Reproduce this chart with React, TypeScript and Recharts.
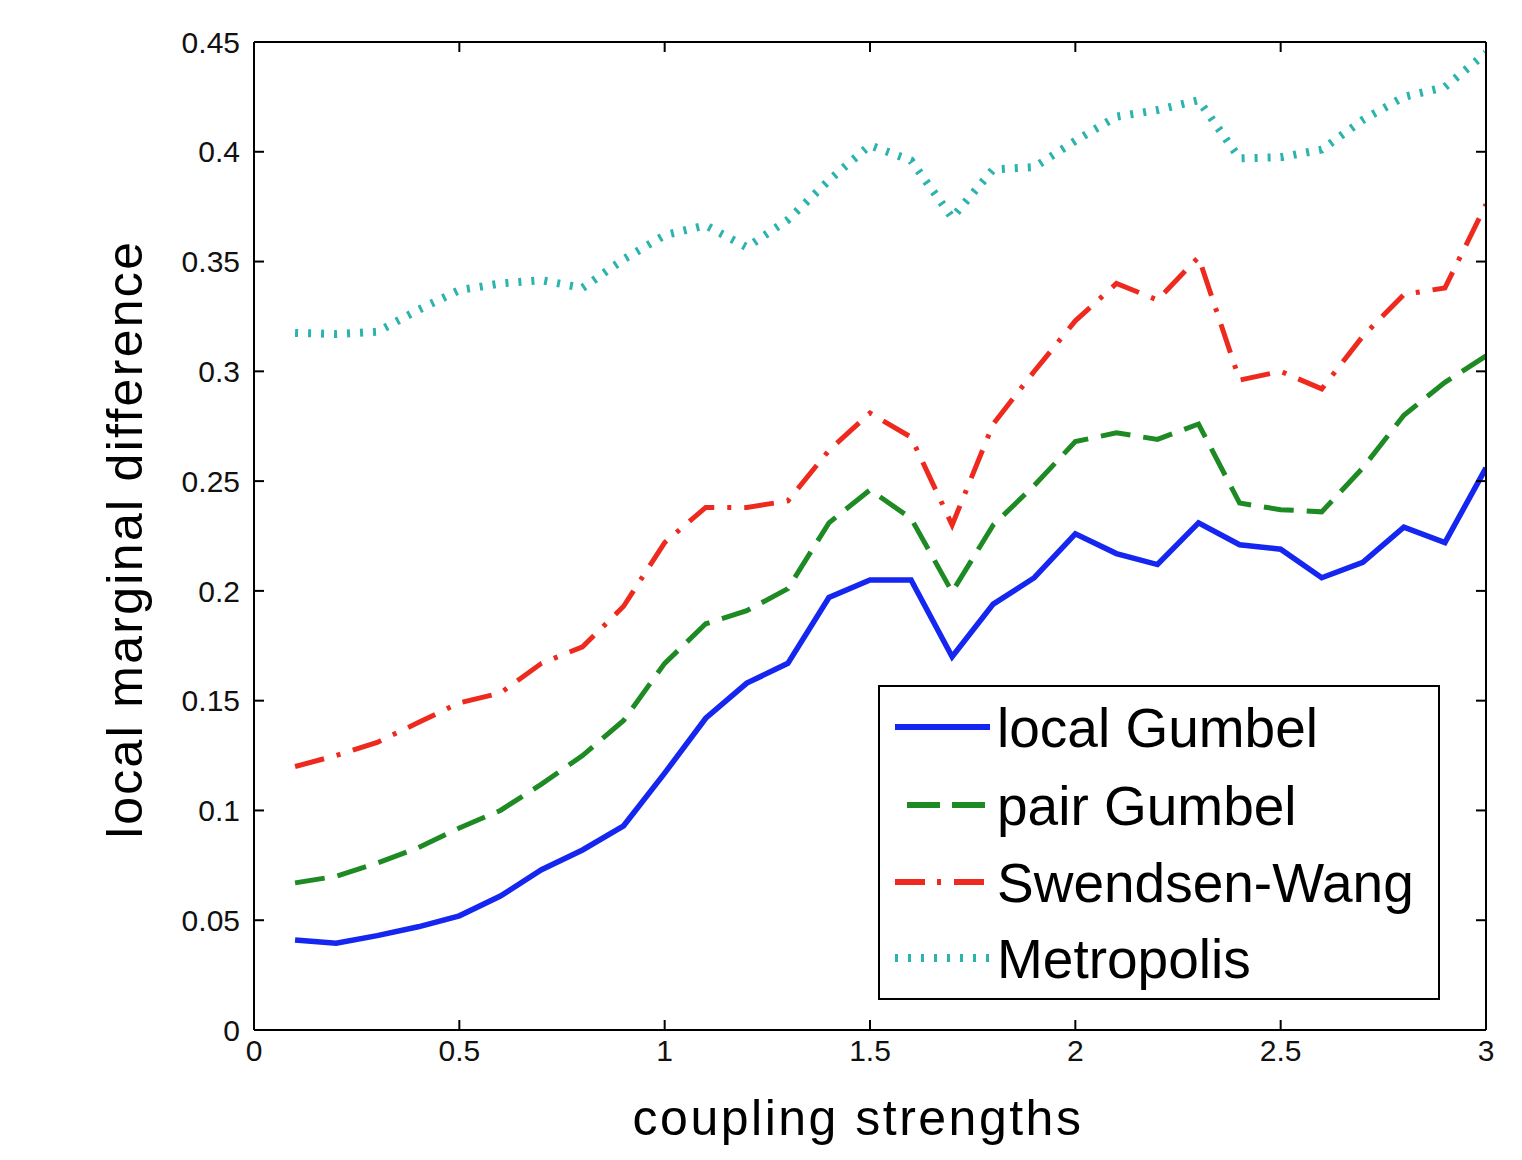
import React from 'react';
import { LineChart, Line, XAxis, YAxis, Legend, Label } from 'recharts';

const couplingStrengths = [
  0.1, 0.2, 0.3, 0.4, 0.5, 0.6, 0.7, 0.8, 0.9, 1.0,
  1.1, 1.2, 1.3, 1.4, 1.5, 1.6, 1.7, 1.8, 1.9, 2.0,
  2.1, 2.2, 2.3, 2.4, 2.5, 2.6, 2.7, 2.8, 2.9, 3.0,
];

const localGumbel = [
  0.041, 0.0395, 0.043, 0.047, 0.052, 0.061, 0.073, 0.082, 0.093, 0.117,
  0.142, 0.158, 0.167, 0.197, 0.205, 0.205, 0.17, 0.194, 0.206, 0.226,
  0.217, 0.212, 0.231, 0.221, 0.219, 0.206, 0.213, 0.229, 0.222, 0.256,
];

const pairGumbel = [
  0.067, 0.07, 0.076, 0.083, 0.092, 0.1, 0.112, 0.125, 0.141, 0.167,
  0.185, 0.191, 0.201, 0.231, 0.246, 0.233, 0.1995, 0.23, 0.248, 0.268,
  0.272, 0.269, 0.276, 0.24, 0.237, 0.236, 0.256, 0.28, 0.295, 0.307,
];

const swendsenWang = [
  0.12, 0.125, 0.131, 0.14, 0.149, 0.1535, 0.167, 0.1745, 0.193, 0.222,
  0.238, 0.238, 0.241, 0.264, 0.281, 0.27, 0.23, 0.276, 0.3, 0.323,
  0.34, 0.3325, 0.352, 0.296, 0.3, 0.292, 0.316, 0.335, 0.338, 0.376,
];

const metropolis = [
  0.3175, 0.317, 0.318, 0.328, 0.337, 0.34, 0.3415, 0.338, 0.351, 0.362,
  0.3665, 0.3565, 0.369, 0.387, 0.403, 0.396, 0.37, 0.392, 0.393, 0.405,
  0.416, 0.419, 0.4235, 0.397, 0.3975, 0.401, 0.4145, 0.425, 0.4295, 0.445,
];

const xTicks = [0, 0.5, 1, 1.5, 2, 2.5, 3];
const xTickLabels = ['0', '0.5', '1', '1.5', '2', '2.5', '3'];
const yTicks = [0, 0.05, 0.1, 0.15, 0.2, 0.25, 0.3, 0.35, 0.4, 0.45];
const yTickLabels = ['0', '0.05', '0.1', '0.15', '0.2', '0.25', '0.3', '0.35', '0.4', '0.45'];

const seriesNames = ['local Gumbel', 'pair Gumbel', 'Swendsen-Wang', 'Metropolis'];
const seriesColors = ['#1426f0', '#1e8a24', '#ee2a1f', '#2bb3ad'];

const data = couplingStrengths.map((x, i) => ({
  x,
  local: localGumbel[i],
  pair: pairGumbel[i],
  sw: swendsenWang[i],
  metro: metropolis[i],
}));

const FONT = "'Liberation Sans', Arial, Helvetica, sans-serif";
const tickStyle = { fontSize: 30, fill: '#111', fontFamily: FONT };
const axisLineStyle = { stroke: '#000', strokeWidth: 2 };

const fmtX = (v: number) => {
  const i = xTicks.findIndex((t) => Math.abs(t - v) < 1e-9);
  return i >= 0 ? xTickLabels[i] : String(v);
};
const fmtY = (v: number) => {
  const i = yTicks.findIndex((t) => Math.abs(t - v) < 1e-9);
  return i >= 0 ? yTickLabels[i] : String(v);
};

const LegendBox = () => {
  const W = 562;
  const H = 315;
  const rows = [42, 120, 197, 273];
  return (
    <svg width={W} height={H} style={{ display: 'block' }}>
      <rect x={1} y={1} width={W - 2} height={H - 2} fill="#fff" stroke="#000" strokeWidth={2} />
      <line x1={17} x2={112} y1={rows[0]} y2={rows[0]} stroke={seriesColors[0]} strokeWidth={6} />
      <line x1={29} x2={107} y1={rows[1]} y2={rows[1]} stroke={seriesColors[1]} strokeWidth={6} strokeDasharray="33 12" />
      <line x1={17} x2={110} y1={rows[2]} y2={rows[2]} stroke={seriesColors[2]} strokeWidth={6} strokeDasharray="30 12 4 13" />
      <line x1={17} x2={112} y1={rows[3]} y2={rows[3]} stroke={seriesColors[3]} strokeWidth={8} strokeDasharray="3 10" />
      {seriesNames.map((n, i) => (
        <text key={n} x={119} y={rows[i] + 20} fontSize={55} fontFamily={FONT} fill="#000">
          {n}
        </text>
      ))}
    </svg>
  );
};

export default function App() {
  return (
    <div style={{ position: 'absolute', left: 0, top: 0, width: 1522, height: 1160, background: '#fff' }}>
      <LineChart
        width={1522}
        height={1160}
        data={data}
        margin={{ top: 41, right: 35, bottom: 0, left: 0 }}
      >
        <XAxis
          xAxisId="top"
          orientation="top"
          type="number"
          dataKey="x"
          domain={[0, 3]}
          allowDataOverflow
          ticks={xTicks}
          interval={0}
          height={1}
          tickSize={-10}
          tickFormatter={() => ''}
          axisLine={axisLineStyle}
          tickLine={axisLineStyle}
        />
        <XAxis
          type="number"
          dataKey="x"
          domain={[0, 3]}
          allowDataOverflow
          ticks={xTicks}
          interval={0}
          height={130}
          tickSize={-10}
          tickMargin={20}
          tickFormatter={fmtX}
          tick={tickStyle}
          axisLine={axisLineStyle}
          tickLine={axisLineStyle}
        >
          <Label
            content={(props: any) => {
              const vb = props.viewBox || { x: 254, y: 1030, width: 1232, height: 130 };
              return (
                <text
                  x={vb.x + vb.width / 2 - 12}
                  y={vb.y + 105}
                  textAnchor="middle"
                  fontSize={50}
                  fontFamily={FONT}
                  fill="#000"
                  letterSpacing={2.5}
                >
                  coupling strengths
                </text>
              );
            }}
          />
        </XAxis>
        <YAxis
          type="number"
          domain={[0, 0.45]}
          allowDataOverflow
          ticks={yTicks}
          interval={0}
          width={254}
          tickSize={-10}
          tickMargin={24}
          tickFormatter={fmtY}
          tick={tickStyle}
          axisLine={axisLineStyle}
          tickLine={axisLineStyle}
        >
          <Label
            content={(props: any) => {
              const vb = props.viewBox || { x: 0, y: 42, width: 254, height: 988 };
              const cx = vb.x + 142;
              const cy = vb.y + vb.height / 2 + 3;
              return (
                <text
                  x={cx}
                  y={cy}
                  transform={`rotate(-90, ${cx}, ${cy})`}
                  textAnchor="middle"
                  fontSize={50}
                  fontFamily={FONT}
                  fill="#000"
                  letterSpacing={2.3}
                >
                  local marginal difference
                </text>
              );
            }}
          />
        </YAxis>
        <YAxis
          yAxisId="right"
          orientation="right"
          type="number"
          domain={[0, 0.45]}
          allowDataOverflow
          ticks={yTicks}
          interval={0}
          width={1}
          tickSize={-10}
          tickFormatter={() => ''}
          axisLine={axisLineStyle}
          tickLine={axisLineStyle}
        />
        <Line
          type="linear"
          dataKey="local"
          name={seriesNames[0]}
          stroke={seriesColors[0]}
          strokeWidth={5.5}
          dot={false}
          activeDot={false}
          isAnimationActive={false}
        />
        <Line
          type="linear"
          dataKey="pair"
          name={seriesNames[1]}
          stroke={seriesColors[1]}
          strokeWidth={5}
          strokeDasharray="30 13"
          dot={false}
          activeDot={false}
          isAnimationActive={false}
        />
        <Line
          type="linear"
          dataKey="sw"
          name={seriesNames[2]}
          stroke={seriesColors[2]}
          strokeWidth={5}
          strokeDasharray="30 13 4 13"
          dot={false}
          activeDot={false}
          isAnimationActive={false}
        />
        <Line
          type="linear"
          dataKey="metro"
          name={seriesNames[3]}
          stroke={seriesColors[3]}
          strokeWidth={8}
          strokeDasharray="3 10"
          dot={false}
          activeDot={false}
          isAnimationActive={false}
        />
        <Legend
          layout="vertical"
          verticalAlign="middle"
          align="center"
          wrapperStyle={{ left: 878, top: 685, width: 562, height: 315 }}
          content={() => <LegendBox />}
        />
      </LineChart>
    </div>
  );
}
